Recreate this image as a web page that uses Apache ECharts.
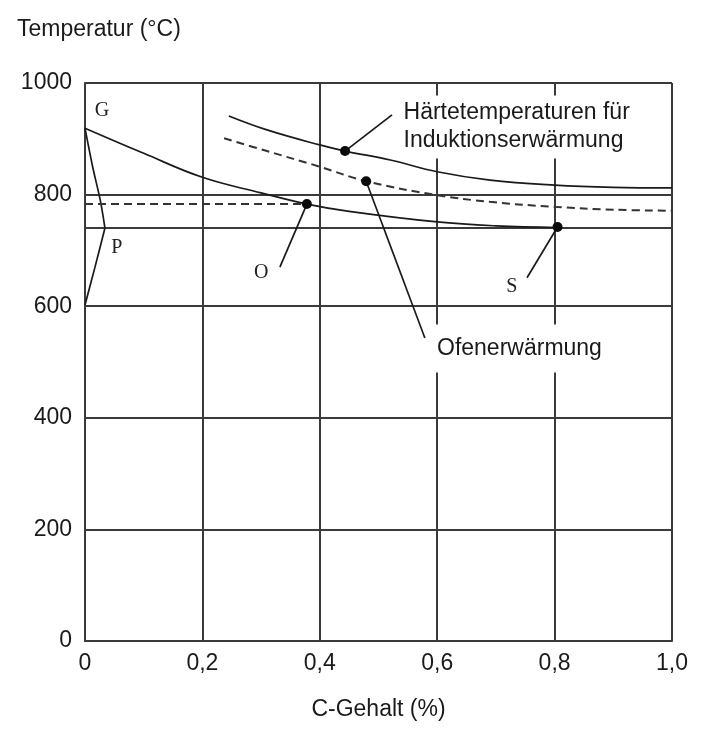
<!DOCTYPE html>
<html>
<head>
<meta charset="utf-8">
<script src="https://cdn.jsdelivr.net/npm/echarts@6/dist/echarts.min.js"></script>
<style>html,body{margin:0;padding:0;background:#fff}#c{width:703px;height:737px}</style>
</head>
<body>
<div id="c"></div>
<script>
// ---- data ----
const xTickLabels = ['0', '0,2', '0,4', '0,6', '0,8', '1,0'];
const yTicks = [0, 200, 400, 600, 800, 1000];
// GS line (A3)
const gsLine = [[0, 919], [0.1, 874], [0.2, 831], [0.3, 803], [0.378, 783], [0.45, 770], [0.6, 751], [0.7, 744], [0.805, 741]];
// GP line
const gpLine = [[0, 919], [0.013, 850], [0.026, 790], [0.034, 740]];
// P to lower left
const pqLine = [[0.034, 740], [0.017, 670], [0, 602]];
// A1 line P-S-K
const a1Line = [[0, 740], [1.0, 740]];
// dashed level through O
const oLevel = [[0, 783], [0.378, 783]];
// hardening temperature for induction heating
const induktion = [[0.245, 941], [0.31, 916], [0.4, 889], [0.443, 878], [0.52, 862], [0.6, 841], [0.69, 826], [0.8, 817], [0.9, 813], [1.0, 812]];
// furnace heating
const ofen = [[0.237, 901], [0.31, 878], [0.4, 850], [0.479, 824], [0.6, 799], [0.69, 787], [0.8, 778], [0.9, 773], [1.0, 771]];
// marked points
const dots = [[0.378, 783], [0.805, 742], [0.443, 878], [0.479, 824]];
// leader lines
const leaderInd = [[0.443, 878], [0.523, 943]];
const leaderOfen = [[0.479, 824], [0.579, 543]];
const leaderO = [[0.378, 783], [0.332, 670]];
const leaderS = [[0.805, 742], [0.753, 651]];
// letter labels
const letters = [
  { name: 'G', value: [0.029, 950] },
  { name: 'P', value: [0.054, 705] },
  { name: 'O', value: [0.30, 660] },
  { name: 'S', value: [0.727, 634] }
];
const textInd = { name: 'Härtetemperaturen für\nInduktionserwärmung', value: [0.535, 921] };
const textOfen = { name: 'Ofenerwärmung', value: [0.592, 524] };

const INK = '#1a1a1a';
const GRID = '#3a3a3a';
const SANS = '"Liberation Sans", Arial, Helvetica, sans-serif';
const SERIF = '"Liberation Serif", "DejaVu Serif", serif';
const CLEAR = { color: 'rgba(0,0,0,0)', opacity: 1 };

function line(data, opts) {
  return Object.assign({
    type: 'line', data: data, showSymbol: false, symbol: 'none', silent: true,
    lineStyle: { color: INK, width: 1.7 }, z: 3
  }, opts || {});
}

const chart = echarts.init(document.getElementById('c'), null, { renderer: 'canvas' });
chart.setOption({
  animation: false,
  backgroundColor: '#fff',
  title: {
    text: 'Temperatur (°C)', left: 12, top: 13,
    textStyle: { fontFamily: SANS, fontSize: 23, fontWeight: 'normal', color: INK }
  },
  grid: { left: 85, right: 31, top: 83, bottom: 96 },
  xAxis: {
    type: 'value', min: 0, max: 1, interval: 0.2,
    name: 'C-Gehalt (%)', nameLocation: 'middle', nameGap: 57,
    nameTextStyle: { fontFamily: SANS, fontSize: 23, color: INK },
    axisLine: { show: true, lineStyle: { color: GRID, width: 2 } },
    axisTick: { show: false },
    axisLabel: {
      fontFamily: SANS, fontSize: 23, color: INK, margin: 11,
      formatter: function (v) { return xTickLabels[Math.round(v / 0.2)]; }
    },
    splitLine: { show: true, lineStyle: { color: GRID, width: 2 } }
  },
  yAxis: {
    type: 'value', min: 0, max: 1000, interval: 200,
    axisLine: { show: true, lineStyle: { color: GRID, width: 2 } },
    axisTick: { show: false },
    axisLabel: {
      fontFamily: SANS, fontSize: 23, color: INK, margin: 13,
      formatter: function (v) { return String(yTicks[Math.round(v / 200)]); }
    },
    splitLine: { show: true, lineStyle: { color: GRID, width: 2 } }
  },
  series: [
    line(a1Line, { lineStyle: { color: GRID, width: 2 } }),
    line(gsLine, { smooth: 0.4 }),
    line(gpLine, { smooth: 0.3 }),
    line(pqLine, { smooth: 0.3 }),
    line(oLevel, { lineStyle: { color: '#333', width: 2, type: [8, 5] } }),
    line(induktion, { smooth: 0.4 }),
    line(ofen, { smooth: 0.4, lineStyle: { color: '#333', width: 2, type: [8, 5] } }),
    line(leaderInd), line(leaderOfen), line(leaderO), line(leaderS),
    {
      type: 'scatter', data: dots, symbol: 'circle', symbolSize: 10, silent: true, z: 5,
      itemStyle: { color: '#0a0a0a', opacity: 1 }
    },
    {
      type: 'scatter', data: letters, symbolSize: 1, silent: true, z: 4,
      itemStyle: CLEAR,
      label: {
        show: true, position: 'inside', formatter: '{b}',
        fontFamily: SERIF, fontSize: 20, color: '#222'
      }
    },
    {
      type: 'scatter', data: [textInd], symbolSize: 1, silent: true, z: 6,
      itemStyle: CLEAR,
      label: {
        show: true, position: 'right', distance: 0, formatter: '{b}',
        align: 'left', verticalAlign: 'middle',
        fontFamily: SANS, fontSize: 23, lineHeight: 28, color: INK,
        backgroundColor: '#fff', padding: [7, 22, 0, 4]
      }
    },
    {
      type: 'scatter', data: [textOfen], symbolSize: 1, silent: true, z: 6,
      itemStyle: CLEAR,
      label: {
        show: true, position: 'right', distance: 0, formatter: '{b}',
        align: 'left', verticalAlign: 'middle',
        fontFamily: SANS, fontSize: 23, lineHeight: 30, color: INK,
        backgroundColor: '#fff', padding: [10, 8, 8, 4]
      }
    }
  ]
});
</script>
</body>
</html>
